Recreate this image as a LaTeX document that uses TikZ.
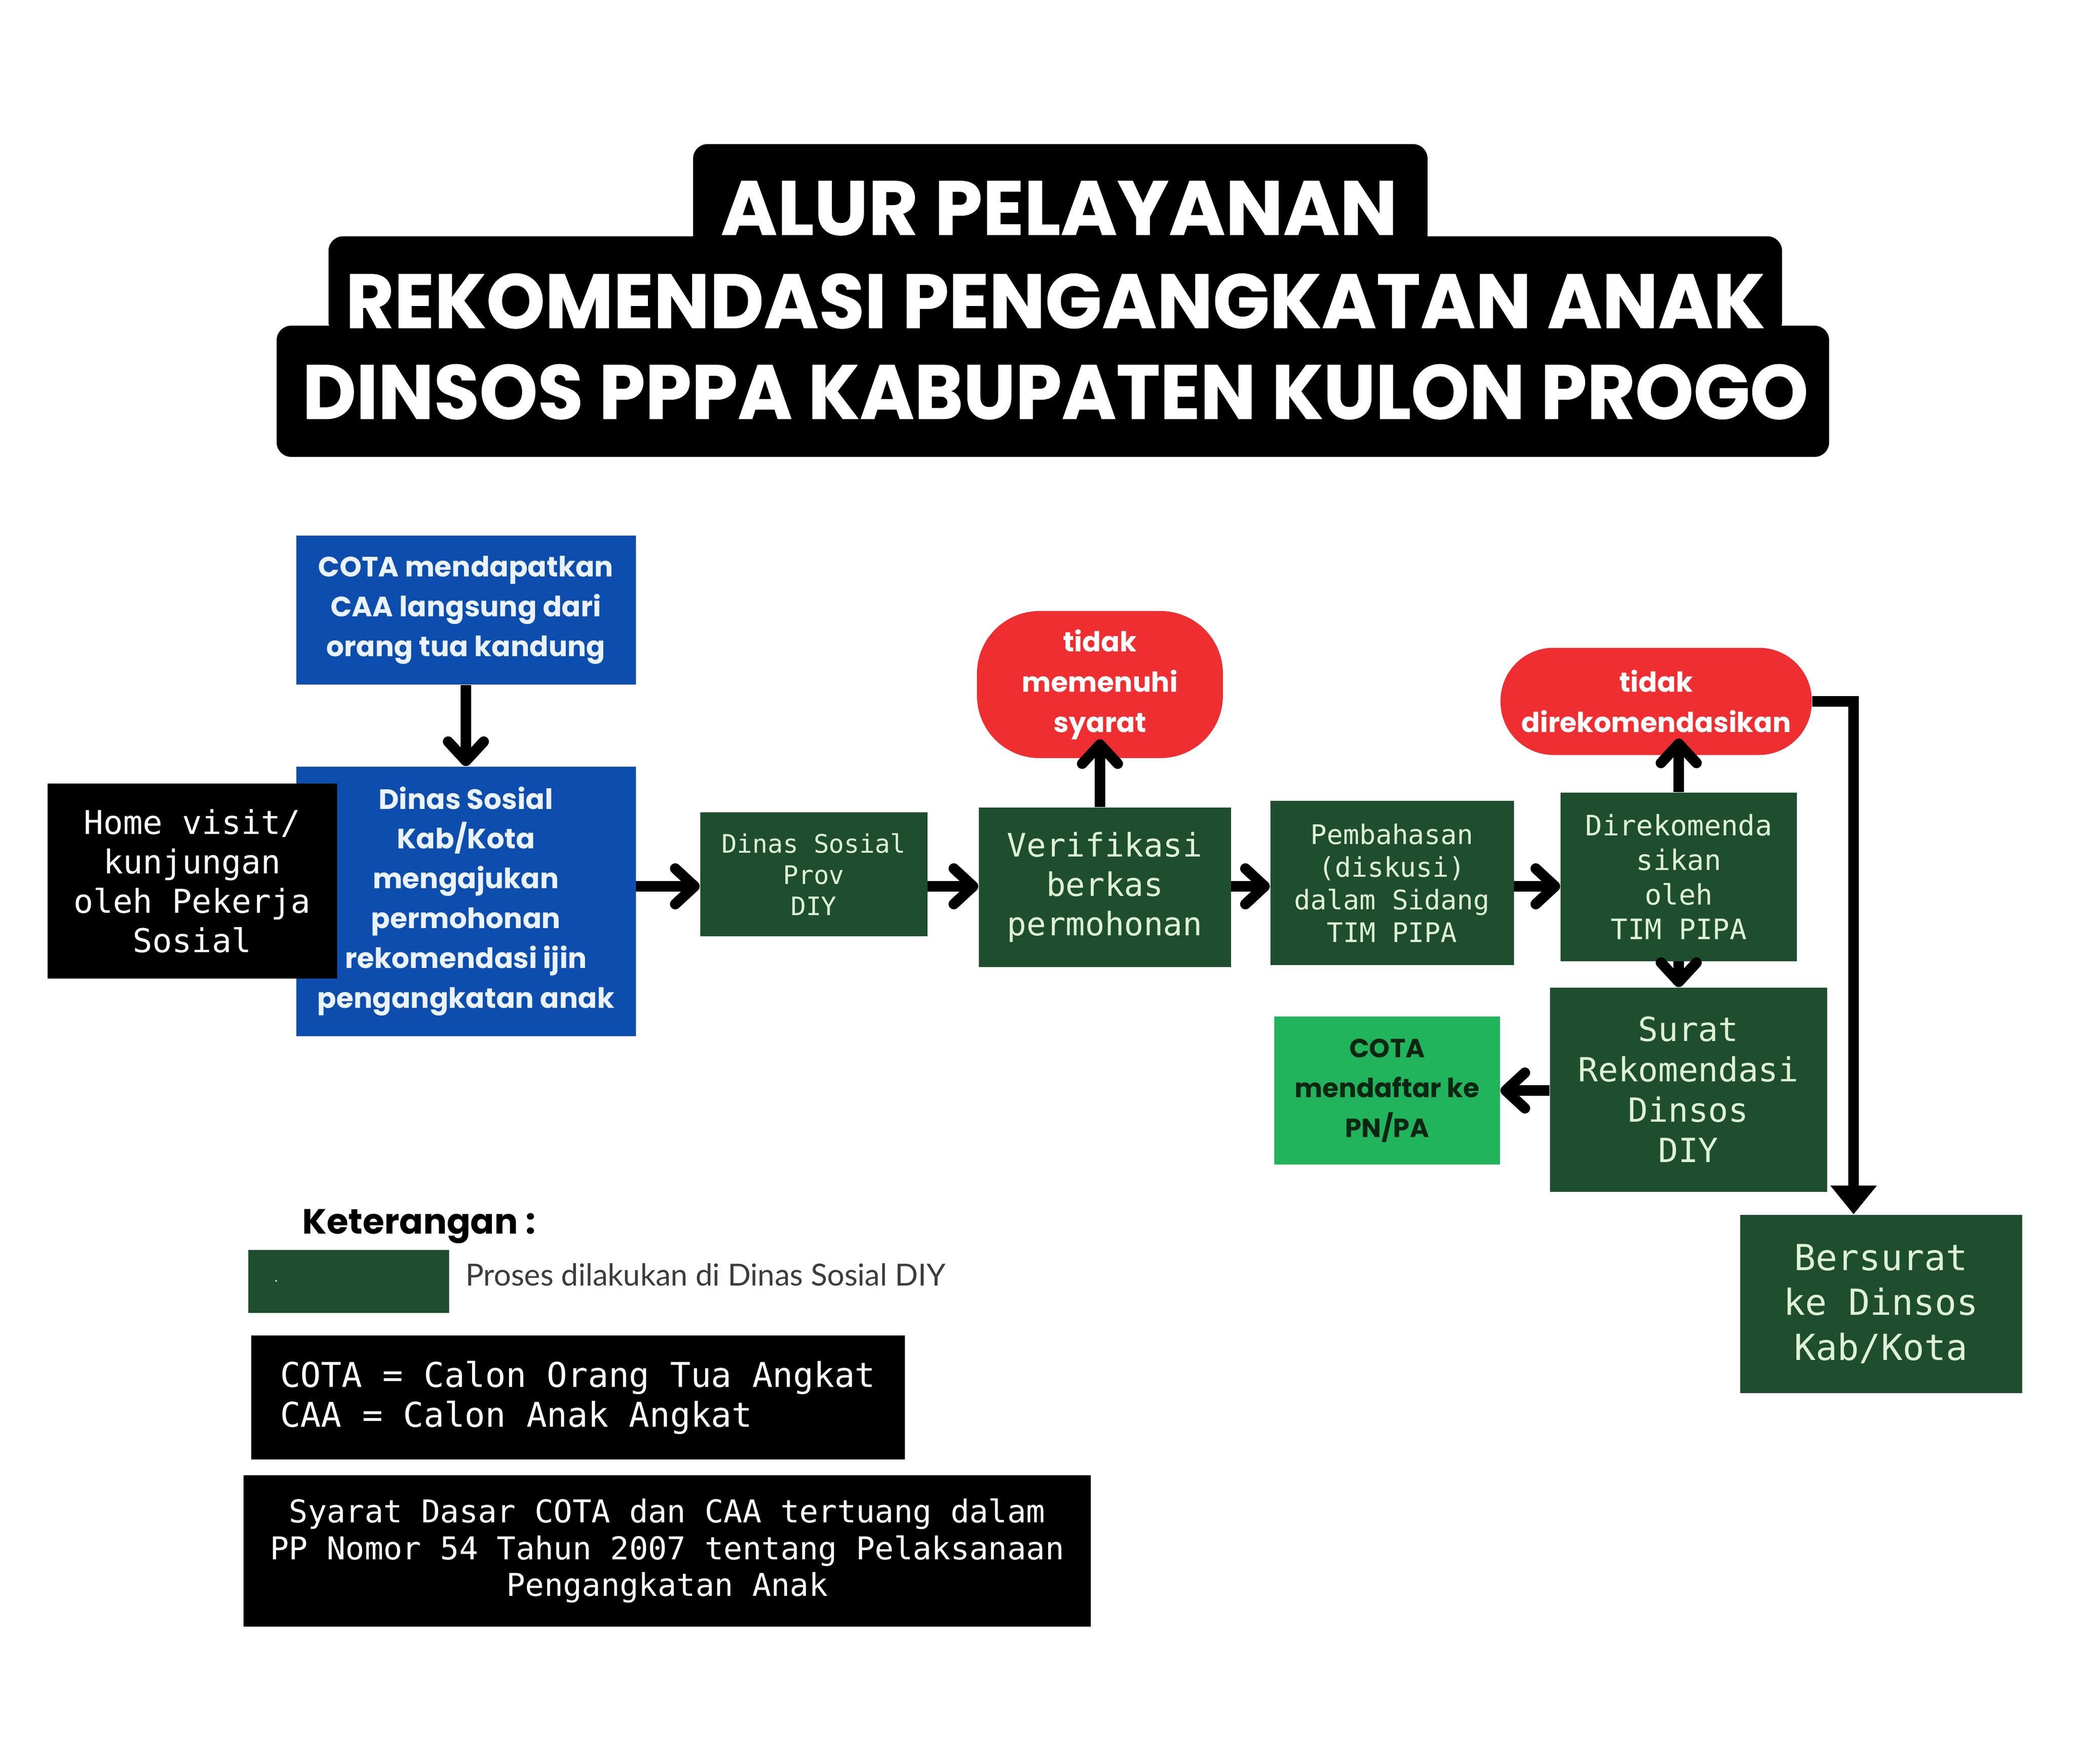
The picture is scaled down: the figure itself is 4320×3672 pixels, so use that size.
\documentclass[tikz,border=0pt]{standalone}
\usepackage{fontspec}
\setmainfont{Poppins}
\newfontfamily\titlefont{Poppins}[BoldFeatures={FakeBold=0.6}]
\newfontfamily\monofont{DejaVu Sans Mono}[WordSpace={1,0,0}]
\newfontfamily\latofont{Lato}
\usetikzlibrary{arrows.meta,positioning}

\definecolor{blueproc}{HTML}{0C4DAE}
\definecolor{greenproc}{HTML}{1F4E2E}
\definecolor{greenpn}{HTML}{22B45C}
\definecolor{redstop}{HTML}{EE2E31}
\definecolor{mint}{HTML}{DDF3D3}
\definecolor{icewhite}{HTML}{EAF2FF}
\definecolor{darkink}{HTML}{0B2612}
\definecolor{greytext}{HTML}{3C3C3C}

\newcommand{\fsz}[2]{\fontsize{#1}{#2}\selectfont}

\begin{document}
\begin{tikzpicture}[x=0.1mm,y=-0.1mm,>={Straight Barb[length=4mm,width=7.4mm,round]},line join=round]

  \tikzstyle{box}=[rectangle,inner sep=0pt,align=center]
  \tikzstyle{blue box}=[box,fill=blueproc,text=icewhite,font=\bfseries\fsz{16.6}{23.6}]
  \tikzstyle{green box}=[box,fill=greenproc,text=mint]
  \tikzstyle{black box}=[box,fill=black,text=white]
  \tikzstyle{stop}=[box,fill=redstop,text=white,font=\bfseries\fsz{16.3}{23.8}]
  \tikzstyle{flow}=[->,line width=2.2mm]
  \tikzstyle{title line}=[anchor=base,text=white,transform shape,font=\titlefont\bfseries\fsz{45.5}{50}]

  \useasboundingbox (0,0) rectangle (4320,3672);
  \fill [white] (0,0) rectangle (4320,3672);

  % title
  \fill [rounded corners=3mm] (1443,300) rectangle (2972,530);
  \fill [rounded corners=3mm] (684,492) rectangle (3710,700);
  \fill [rounded corners=3mm] (576,678) rectangle (3808,951);
  \node [title line] (title1) at (2205,489) {ALUR PELAYANAN};
  \node [title line, xscale=0.97] (title2) at (2197,683) {REKOMENDASI PENGANGKATAN ANAK};
  \node [title line, xscale=0.965] (title3) at (2197,872) {DINSOS PPPA KABUPATEN KULON PROGO};

  \begin{scope}
    \node [blue box, minimum width=70.7mm, minimum height=31mm] (cota) at (970,1270)
      {COTA mendapatkan\\CAA langsung dari\\orang tua kandung};
    \node [blue box, minimum width=70.7mm, minimum height=56.1mm] (dinkab) at (970,1876)
      {Dinas Sosial\\Kab/Kota\\mengajukan\\permohonan\\rekomendasi ijin\\pengangkatan anak};
    \node [black box, minimum width=60.3mm, minimum height=40.6mm,
      font=\monofont\fsz{19.4}{23.3}] (home) at (400,1834)
      {Home visit/\\kunjungan\\oleh Pekerja\\Sosial};
    \node [green box, minimum width=47.3mm, minimum height=25.8mm,
      font=\monofont\fsz{15.1}{18.5}] (prov) at (1694,1820)
      {Dinas Sosial\\Prov\\DIY};
    \node [green box, minimum width=52.5mm, minimum height=33.2mm,
      font=\monofont\fsz{19.2}{23.3}] (verif) at (2300,1847)
      {Verifikasi\\berkas\\permohonan};
    \node [stop, minimum width=51.2mm, minimum height=30.6mm, rounded corners=13mm] (tms) at (2290,1425)
      {tidak\\memenuhi\\syarat};
    \node [green box, minimum width=50.7mm, minimum height=34.2mm,
      font=\monofont\fsz{16}{19.3}] (pemb) at (2898,1838)
      {Pembahasan\\(diskusi)\\dalam Sidang\\TIM PIPA};
    \node [green box, minimum width=49.2mm, minimum height=35.1mm,
      font=\monofont\fsz{16.7}{20.5}] (direk) at (3495,1825)
      {Direkomenda\\sikan\\oleh\\TIM PIPA};
    \node [stop, minimum width=64.8mm, minimum height=22.3mm, rounded corners=11mm] (tdr) at (3448,1460)
      {tidak\\direkomendasikan};
    \node [green box, minimum width=57.7mm, minimum height=42.5mm,
      font=\monofont\fsz{19.7}{23.9}] (surat) at (3515,2268)
      {Surat\\Rekomendasi\\Dinsos\\DIY};
    \node [box, fill=greenpn, text=darkink, minimum width=47mm, minimum height=30.8mm,
      font=\bfseries\fsz{15.6}{23.6}] (daftar) at (2888,2270)
      {COTA\\mendaftar ke\\PN/PA};
    \node [green box, minimum width=58.7mm, minimum height=37.1mm,
      font=\monofont\fsz{21.3}{26.7}] (bersurat) at (3916,2714)
      {Bersurat\\ke Dinsos\\Kab/Kota};

    \coordinate (flowrow) at (0,1845);

    \path
    (cota) edge [flow] (dinkab)
    (dinkab.east |- flowrow) edge [flow] (prov.west |- flowrow)
    (prov.east |- flowrow) edge [flow] (verif.west |- flowrow)
    (verif.east |- flowrow) edge [flow] (pemb.west |- flowrow)
    (pemb.east |- flowrow) edge [flow] (direk.west |- flowrow)

    (tms.south |- verif.north) edge [flow] ([yshift=4mm]tms.south)

    (direk.north) edge [flow] ([yshift=3.5mm]direk.north |- tdr.south)
    (direk.south) edge [flow] (direk.south |- surat.north)

    (surat.west |- daftar.east) edge [flow] (daftar.east);

    \draw [line width=2.2mm, line join=miter, -{Triangle[length=6mm,width=9.3mm]}]
      (tdr.east) -| ([xshift=-5.7mm]bersurat.north);
  \end{scope}

  % keterangan
  \node [anchor=base west, font=\bfseries\fsz{20.8}{26}] (ket) at (617,2568) {Keterangan :};
  \node [box, fill=greenproc, text=white, minimum width=41.8mm, minimum height=13.1mm,
    text width=30.8mm, inner xsep=5.5mm, align=left, font=\fsz{8}{10}] (legend) at (726,2667) {.};
  \node [anchor=base west, text=greytext, font=\latofont\fsz{18}{22}] (proses) at (957,2676)
    {Proses dilakukan di Dinas Sosial DIY};
  \node [black box, minimum width=136.1mm, minimum height=25.8mm, align=left,
    font=\monofont\fsz{20.2}{23.6}] (abbr) at (1203,2909)
    {COTA = Calon Orang Tua Angkat\\CAA = Calon Anak Angkat};
  \node [black box, minimum width=176.4mm, minimum height=31.5mm,
    font=\monofont\fsz{18.6}{21.9}] (dasar) at (1389,3228)
    {Syarat Dasar COTA dan CAA tertuang dalam\\PP Nomor 54 Tahun 2007 tentang Pelaksanaan\\Pengangkatan Anak};

\end{tikzpicture}
\end{document}
